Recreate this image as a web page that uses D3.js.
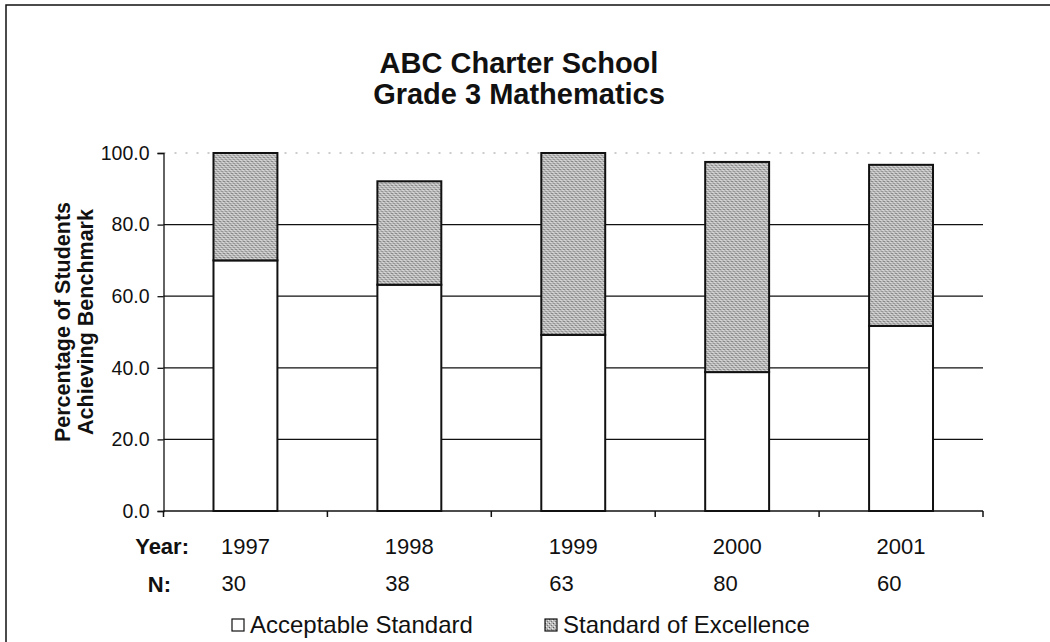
<!DOCTYPE html>
<html>
<head>
<meta charset="utf-8">
<script src="https://cdn.jsdelivr.net/npm/d3@7"></script>
<style>
  body { margin: 0; background: #fff; }
  svg text { font-family: "Liberation Sans", Arial, sans-serif; fill: #111; }
</style>
</head>
<body>
<div id="chart"></div>
<script>
// chart data
const years = ['1997', '1998', '1999', '2000', '2001'];
const counts = ['30', '38', '63', '80', '60'];
const acceptable = [70.0, 63.2, 49.2, 38.8, 51.7];
const excellence = [30.0, 28.9, 50.8, 58.7, 45.0];
const seriesNames = ['Acceptable Standard', 'Standard of Excellence'];
const yTicks = [0, 20, 40, 60, 80, 100];

const width = 1050, height = 642;
const margin = { top: 153, right: 67, bottom: 131, left: 163.5 };
const innerW = width - margin.left - margin.right;
const innerH = height - margin.top - margin.bottom;

const svg = d3.select('#chart')
  .append('svg')
  .attr('width', width)
  .attr('height', height);

// stippled gray fill for the top segment
const pat = svg.append('defs').append('pattern')
  .attr('id', 'stipple')
  .attr('patternUnits', 'userSpaceOnUse')
  .attr('width', 4)
  .attr('height', 4);
pat.append('rect').attr('width', 4).attr('height', 4).attr('fill', '#b9b9b9');
pat.append('rect').attr('x', 0).attr('y', 0).attr('width', 1).attr('height', 1).attr('fill', '#5a5a5a');
pat.append('rect').attr('x', 2).attr('y', 2).attr('width', 1).attr('height', 1).attr('fill', '#777');
pat.append('rect').attr('x', 3).attr('y', 1).attr('width', 1).attr('height', 1).attr('fill', '#eee');
pat.append('rect').attr('x', 1).attr('y', 3).attr('width', 1).attr('height', 1).attr('fill', '#eee');

// outer frame (only left and top edges fall inside the picture)
svg.append('rect')
  .attr('x', 6).attr('y', 5)
  .attr('width', width + 20).attr('height', height + 20)
  .attr('fill', 'none')
  .attr('stroke', '#111')
  .attr('stroke-width', 1.5);

// title
const title = svg.append('text')
  .attr('text-anchor', 'middle')
  .style('font-weight', 'bold')
  .style('font-size', '29px');
title.append('tspan').attr('x', 519).attr('y', 73).text('ABC Charter School');
title.append('tspan').attr('x', 519).attr('y', 104).text('Grade 3 Mathematics');

const chart = svg.append('g')
  .attr('transform', `translate(${margin.left},${margin.top})`);

const x = d3.scaleBand()
  .domain(years)
  .range([0, innerW])
  .paddingInner(0.61)
  .paddingOuter(0.305);

const y = d3.scaleLinear()
  .domain([0, 100])
  .range([innerH, 0]);

// gridlines
chart.append('g')
  .selectAll('line')
  .data(yTicks.filter(d => d > 0))
  .join('line')
  .attr('x1', 0)
  .attr('x2', innerW)
  .attr('y1', d => y(d))
  .attr('y2', d => y(d))
  .attr('stroke', d => d === 100 ? '#999' : '#111')
  .attr('stroke-width', d => d === 100 ? 1 : 1.2)
  .attr('stroke-dasharray', d => d === 100 ? '2,9' : null);

// y axis
const yAxisGroup = chart.append('g')
  .call(d3.axisLeft(y).tickValues(yTicks).tickFormat(d3.format('.1f')).tickSize(6).tickPadding(8));
yAxisGroup.select('.domain').attr('stroke', '#111').attr('stroke-width', 1.3);
yAxisGroup.selectAll('.tick line').attr('stroke', '#111').attr('stroke-width', 1.3);
yAxisGroup.selectAll('.tick text').style('font-size', '19.5px').attr('fill', '#111');

// x axis
const xTickPos = d3.range(years.length + 1).map(i => i * x.step());
const xAxisGroup = chart.append('g').attr('transform', `translate(0,${innerH})`);
xAxisGroup.append('line')
  .attr('x1', 0).attr('x2', innerW)
  .attr('stroke', '#111').attr('stroke-width', 1.5);
xAxisGroup.selectAll('.xtick')
  .data(xTickPos)
  .join('line')
  .attr('class', 'xtick')
  .attr('x1', d => d).attr('x2', d => d)
  .attr('y1', 0).attr('y2', 6)
  .attr('stroke', '#111').attr('stroke-width', 1.5);

// stacked bars
const stackData = years.map((yr, i) => ({ year: yr, acc: acceptable[i], exc: excellence[i] }));
const stacked = d3.stack().keys(['acc', 'exc'])(stackData);
const fills = ['#fff', 'url(#stipple)'];

chart.append('g')
  .selectAll('g')
  .data(stacked)
  .join('g')
  .attr('fill', (d, i) => fills[i])
  .selectAll('rect')
  .data(d => d)
  .join('rect')
  .attr('x', d => x(d.data.year))
  .attr('y', d => y(d[1]))
  .attr('width', x.bandwidth())
  .attr('height', d => y(d[0]) - y(d[1]))
  .attr('stroke', '#111')
  .attr('stroke-width', 2);

// year and N rows
svg.append('text')
  .attr('x', 189).attr('y', 554)
  .attr('text-anchor', 'end')
  .style('font-weight', 'bold')
  .style('font-size', '22px')
  .text('Year:');
svg.append('text')
  .attr('x', 171).attr('y', 592)
  .attr('text-anchor', 'end')
  .style('font-weight', 'bold')
  .style('font-size', '22px')
  .text('N:');

svg.append('g')
  .selectAll('text')
  .data(years)
  .join('text')
  .attr('x', d => margin.left + x(d) + x.bandwidth() / 2)
  .attr('y', 554)
  .attr('text-anchor', 'middle')
  .style('font-size', '22px')
  .text(d => d);

svg.append('g')
  .selectAll('text')
  .data(counts)
  .join('text')
  .attr('x', (d, i) => margin.left + x(years[i]) + x.bandwidth() / 2 - 24)
  .attr('y', 591)
  .style('font-size', '22px')
  .text(d => d);

// y axis title
const yTitle = svg.append('text')
  .attr('transform', 'rotate(-90)')
  .attr('text-anchor', 'middle')
  .style('font-weight', 'bold')
  .style('font-size', '21.5px');
yTitle.append('tspan').attr('x', -322).attr('y', 70).text('Percentage of Students');
yTitle.append('tspan').attr('x', -322).attr('y', 93).text('Achieving Benchmark');

// legend
const legendX = [232, 545];
const legend = svg.append('g')
  .selectAll('g')
  .data(seriesNames)
  .join('g')
  .attr('transform', (d, i) => `translate(${legendX[i]},619)`);
legend.append('rect')
  .attr('width', 12).attr('height', 12)
  .attr('fill', (d, i) => fills[i])
  .attr('stroke', '#111')
  .attr('stroke-width', 1.2);
legend.append('text')
  .attr('x', 18).attr('y', 14)
  .style('font-size', '24px')
  .text(d => d);
</script>
</body>
</html>
